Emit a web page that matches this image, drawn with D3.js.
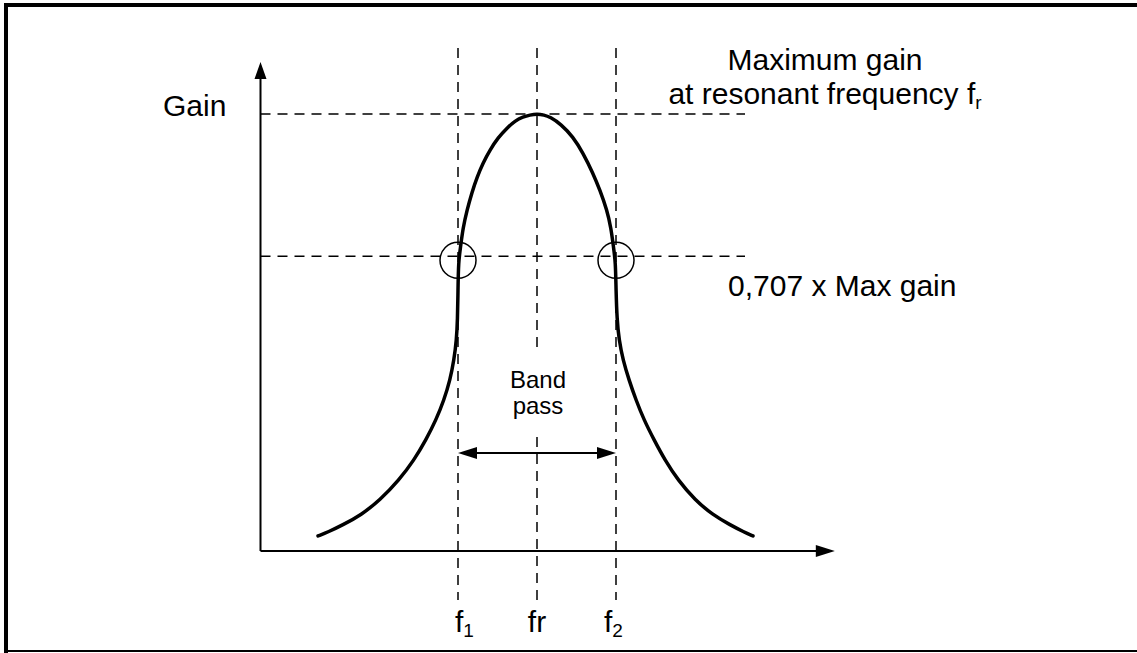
<!DOCTYPE html>
<html>
<head>
<meta charset="utf-8">
<script src="https://cdn.jsdelivr.net/npm/d3@7"></script>
<style>
  html, body { margin: 0; padding: 0; background: #fff; }
  svg { display: block; }
  text { font-family: "Liberation Sans", Arial, Helvetica, sans-serif; fill: #000; }
</style>
</head>
<body>
<div id="chart"></div>
<script>
// Relative frequency (fr = 0, f1 = -1, f2 = +1) and gain
const freq = [-2.772, -2.646, -2.456, -2.228, -1.987, -1.747, -1.557, -1.405, -1.278, -1.177,
  -1.101, -1.051, -1.019, -1.006, -1.000, -0.994, -0.968, -0.937, -0.886, -0.823, -0.759,
  -0.684, -0.595, -0.494, -0.380, -0.278, -0.177, -0.089, 0,
  0.089, 0.165, 0.304, 0.456, 0.582, 0.709, 0.797, 0.886, 0.937, 0.968, 0.994, 1.000,
  1.013, 1.038, 1.089, 1.165, 1.253, 1.354, 1.481, 1.620, 1.785, 2.000, 2.228, 2.443, 2.620, 2.734];
const gain = [0.131, 0.139, 0.154, 0.174, 0.205, 0.246, 0.287, 0.329, 0.370, 0.411,
  0.452, 0.493, 0.535, 0.576, 0.638, 0.695, 0.726, 0.765, 0.802, 0.839, 0.870,
  0.899, 0.926, 0.951, 0.971, 0.986, 0.994, 0.998, 1.000,
  0.998, 0.994, 0.979, 0.953, 0.920, 0.878, 0.843, 0.802, 0.765, 0.726, 0.695, 0.638,
  0.576, 0.535, 0.493, 0.452, 0.411, 0.370, 0.329, 0.287, 0.246, 0.205, 0.174, 0.154, 0.139, 0.131];

// Marked frequencies and gain levels
const markFreqs = [-1, 0, 1];
const markNames = ['f', 'fr', 'f'];
const markSubs = ['1', '', '2'];
const gainLevels = [1.0, 0.707];

const width = 1137, height = 653;

const svg = d3.select('#chart').append('svg')
  .attr('width', width)
  .attr('height', height);

// Frame (top and left thick, bottom thin)
svg.append('rect').attr('x', 4).attr('y', 3).attr('width', width - 4).attr('height', 4).attr('fill', '#000');
svg.append('rect').attr('x', 4).attr('y', 3).attr('width', 4).attr('height', height - 3).attr('fill', '#000');
svg.append('rect').attr('x', 4).attr('y', 650).attr('width', width - 4).attr('height', 2).attr('fill', '#000');

// Scales
const x = d3.scaleLinear().domain([-1, 1]).range([458, 616]);
const y = d3.scaleLinear().domain([0.1, 1]).range([551, 114]);

const xMin = -3.5, xMax = 3.77;   // axis extent in frequency units
const yTop = 62;                  // y-axis arrow tip

const g = svg.append('g');

// Dashed guide lines
const dash = '10,7';
gainLevels.forEach(v => {
  g.append('line')
    .attr('x1', x(xMin)).attr('x2', 745)
    .attr('y1', y(v)).attr('y2', y(v))
    .attr('stroke', '#000').attr('stroke-width', 1.5)
    .attr('stroke-dasharray', dash);
});

markFreqs.forEach(f => {
  const segs = f === 0 ? [[48, 350], [437, 600]] : [[48, 600]];
  segs.forEach(([a, b]) => {
    g.append('line')
      .attr('x1', x(f)).attr('x2', x(f))
      .attr('y1', a).attr('y2', b)
      .attr('stroke', '#000').attr('stroke-width', 1.5)
      .attr('stroke-dasharray', dash);
  });
});

// Axes with arrow heads
g.append('line')
  .attr('x1', x(xMin)).attr('x2', x(xMin))
  .attr('y1', y(0.1)).attr('y2', yTop + 12)
  .attr('stroke', '#000').attr('stroke-width', 2);
g.append('path')
  .attr('d', `M${x(xMin)},${yTop} L${x(xMin) - 6},${yTop + 17} L${x(xMin) + 6},${yTop + 17} Z`)
  .attr('fill', '#000');

g.append('line')
  .attr('x1', x(xMin)).attr('x2', x(xMax) - 12)
  .attr('y1', y(0.1)).attr('y2', y(0.1))
  .attr('stroke', '#000').attr('stroke-width', 2);
g.append('path')
  .attr('d', `M${x(xMax)},${y(0.1)} L${x(xMax) - 19},${y(0.1) - 6} L${x(xMax) - 19},${y(0.1) + 6} Z`)
  .attr('fill', '#000');

// Resonance curve (B-spline smooths the hand-read points)
const pts = freq.map((f, i) => [f, gain[i]]);
const line = d3.line()
  .x(d => x(d[0]))
  .y(d => y(d[1]))
  .curve(d3.curveBasis);

g.append('path')
  .datum(pts)
  .attr('d', line)
  .attr('fill', 'none')
  .attr('stroke', '#000')
  .attr('stroke-width', 3.5)
  .attr('stroke-linecap', 'round');

// Circles at the -3 dB points
[-1, 1].forEach(f => {
  g.append('circle')
    .attr('cx', x(f)).attr('cy', y(0.707) + 4)
    .attr('r', 18)
    .attr('fill', 'none')
    .attr('stroke', '#000')
    .attr('stroke-width', 1.5);
});

// Band pass double arrow
const by = 453;
g.append('line')
  .attr('x1', x(-1) + 10).attr('x2', x(1) - 10)
  .attr('y1', by).attr('y2', by)
  .attr('stroke', '#000').attr('stroke-width', 2);
g.append('path')
  .attr('d', `M${x(-1)},${by} L${x(-1) + 19},${by - 6} L${x(-1) + 19},${by + 6} Z`)
  .attr('fill', '#000');
g.append('path')
  .attr('d', `M${x(1)},${by} L${x(1) - 19},${by - 6} L${x(1) - 19},${by + 6} Z`)
  .attr('fill', '#000');

g.append('text')
  .attr('x', x(0) + 1).attr('y', 388)
  .attr('text-anchor', 'middle')
  .style('font-size', '24px')
  .text('Band');
g.append('text')
  .attr('x', x(0) + 1).attr('y', 414)
  .attr('text-anchor', 'middle')
  .style('font-size', '24px')
  .text('pass');

// Labels
g.append('text')
  .attr('x', 163).attr('y', 116)
  .style('font-size', '30px')
  .text('Gain');

g.append('text')
  .attr('x', 825).attr('y', 70)
  .attr('text-anchor', 'middle')
  .style('font-size', '30px')
  .text('Maximum gain');

const t2 = g.append('text')
  .attr('x', 825).attr('y', 104)
  .attr('text-anchor', 'middle')
  .style('font-size', '30px');
t2.append('tspan').text('at resonant frequency f');
t2.append('tspan').attr('dy', 5).style('font-size', '19px').text('r');

g.append('text')
  .attr('x', 728).attr('y', 296)
  .style('font-size', '30px')
  .text('0,707 x Max gain');

// Frequency labels under the axis
markFreqs.forEach((f, i) => {
  const t = g.append('text')
    .attr('y', 632)
    .style('font-size', '30px');
  if (markSubs[i]) {
    t.attr('x', x(f) - (f < 0 ? 3 : 12));
    t.append('tspan').text(markNames[i]);
    t.append('tspan').attr('dy', 5).style('font-size', '19px').text(markSubs[i]);
  } else {
    t.attr('x', x(f)).attr('text-anchor', 'middle').text(markNames[i]);
  }
});
</script>
</body>
</html>
